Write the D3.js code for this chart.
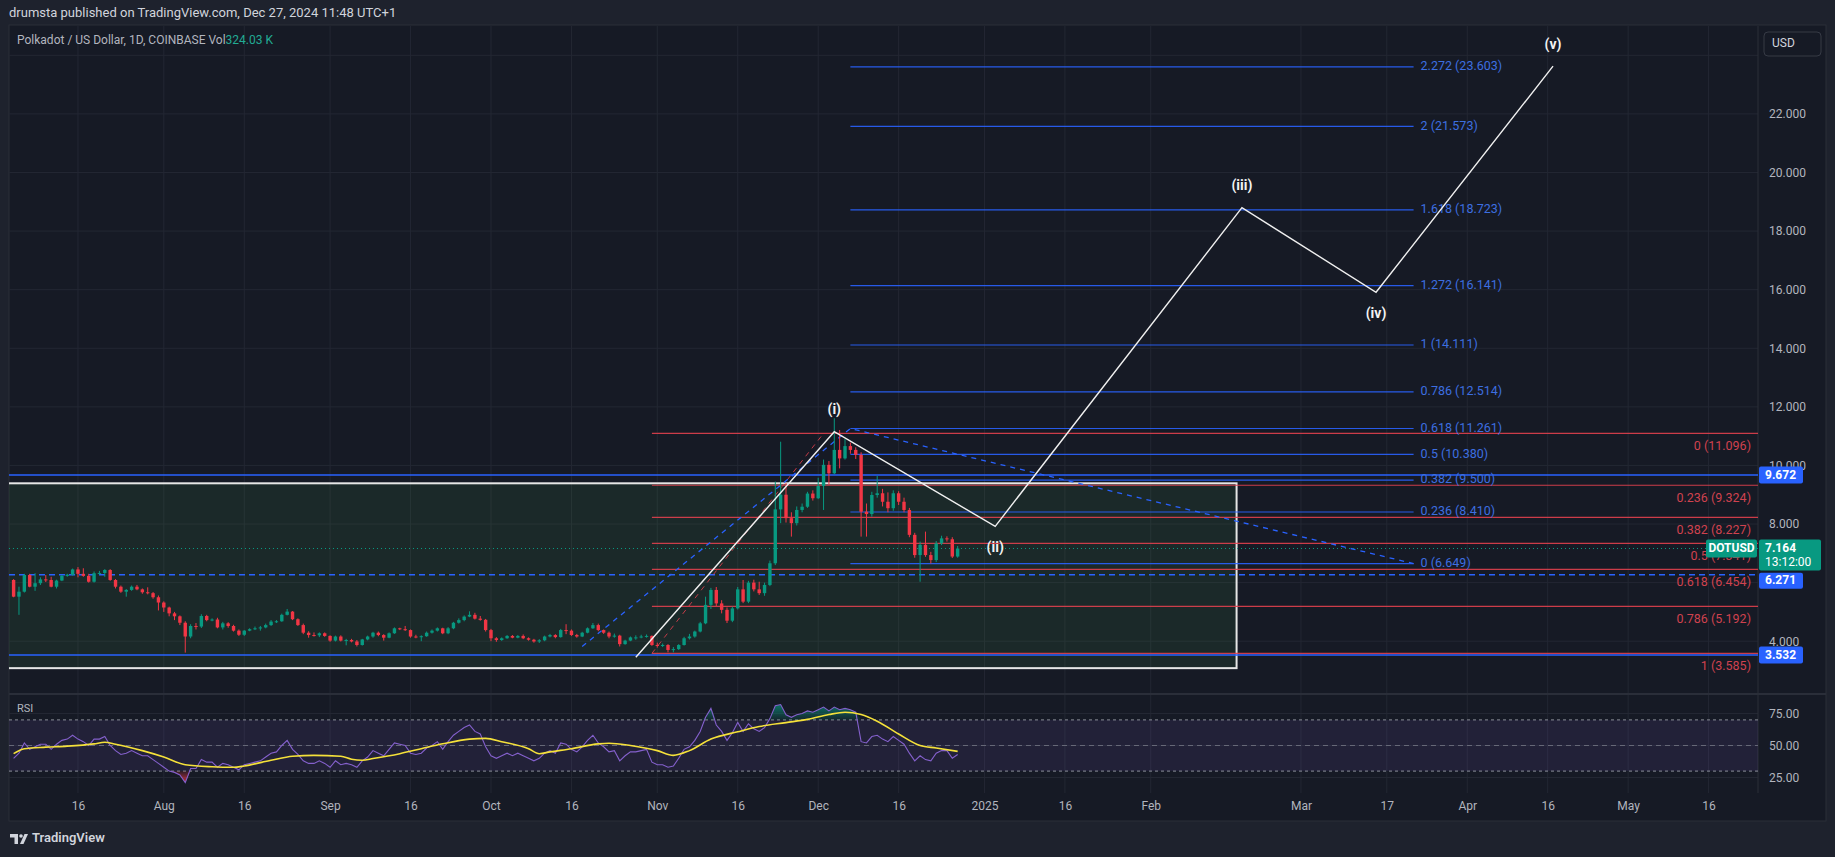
<!DOCTYPE html>
<html><head><meta charset="utf-8">
<script src="https://cdn.jsdelivr.net/npm/d3@7"></script>
<style>
html,body{margin:0;padding:0;background:#1e222d;}
svg{display:block;font-family:Roboto,"Liberation Sans",sans-serif;}
</style></head><body>
<svg id="c" width="1835" height="857"></svg>
<script>
// ---------------- DATA ----------------
const startDate = "2024-07-04";
const firstOpen = 6.09;
const closes = [5.52,5.69,6.26,5.86,5.98,6.11,6.09,5.86,6.07,6.23,
6.27,6.45,6.30,6.23,6.03,6.32,6.33,6.43,6.09,5.86,
5.69,5.75,5.86,5.77,5.67,5.64,5.50,5.32,5.15,4.95,
4.85,4.63,4.16,4.52,4.50,4.86,4.72,4.74,4.47,4.61,
4.52,4.36,4.22,4.36,4.41,4.44,4.47,4.55,4.67,4.68,
4.90,5.01,4.75,4.55,4.29,4.21,4.20,4.27,4.18,4.02,
4.16,4.02,4.04,3.99,3.87,4.06,4.16,4.29,4.21,4.12,
4.27,4.44,4.41,4.38,4.16,4.14,4.17,4.29,4.36,4.44,
4.27,4.44,4.63,4.72,4.84,4.90,4.77,4.73,4.38,4.10,
4.04,4.10,4.18,4.12,4.18,4.10,4.05,3.99,4.03,4.16,
4.21,4.14,4.38,4.36,4.21,4.16,4.29,4.44,4.55,4.38,
4.29,4.16,4.19,3.90,4.02,4.13,4.13,4.16,4.18,3.87,
3.85,3.87,3.70,3.73,3.87,4.10,4.16,4.33,4.61,5.24,
5.75,5.29,5.07,4.70,5.12,5.77,5.35,6.00,5.77,5.64,
5.92,6.66,8.50,9.00,8.20,8.03,8.48,8.59,9.04,8.88,
9.30,10.02,9.73,10.53,10.24,10.66,10.53,10.36,8.42,8.34,
8.99,9.05,8.76,8.54,9.05,8.76,8.48,7.63,6.94,7.29,
6.94,6.77,7.34,7.51,7.48,6.89,7.164];
const highs = [6.12,5.86,6.30,6.30,6.32,6.18,6.26,6.20,6.10,6.26,
6.30,6.48,6.53,6.49,6.30,6.38,6.40,6.46,6.46,6.12,
5.90,5.78,5.90,5.92,5.80,5.84,5.68,5.56,5.36,5.18,
5.00,4.88,4.68,4.58,4.62,4.92,4.90,4.78,4.80,4.66,
4.65,4.56,4.40,4.38,4.44,4.50,4.52,4.60,4.72,4.72,
4.94,5.10,5.03,4.78,4.60,4.34,4.30,4.30,4.30,4.20,
4.19,4.20,4.08,4.08,4.04,4.08,4.19,4.32,4.33,4.24,
4.30,4.47,4.46,4.52,4.40,4.22,4.20,4.33,4.40,4.47,
4.46,4.48,4.66,4.78,4.88,5.02,4.97,4.86,4.76,4.42,
4.14,4.13,4.21,4.21,4.21,4.23,4.13,4.08,4.07,4.19,
4.25,4.24,4.42,4.58,4.40,4.25,4.32,4.47,4.62,4.60,
4.40,4.33,4.26,4.22,4.05,4.16,4.20,4.22,4.23,4.20,
3.95,3.92,3.90,3.80,3.90,4.15,4.25,4.36,4.66,5.52,
5.82,5.85,5.40,5.15,5.18,5.85,6.09,6.06,6.10,6.03,
6.00,6.75,9.45,10.81,9.40,8.40,8.60,8.70,9.10,9.15,
9.58,10.20,10.15,11.61,11.21,10.90,10.78,10.62,10.45,8.70,
9.10,9.64,9.20,9.08,9.15,9.12,8.90,8.55,7.70,7.40,
7.74,7.05,7.42,7.60,7.58,7.55,7.25];
const lows = [5.50,4.90,5.66,5.84,5.72,5.92,6.02,5.84,5.80,6.05,
6.20,6.24,6.18,6.20,6.00,6.00,6.28,6.20,6.06,5.80,
5.65,5.52,5.72,5.74,5.62,5.60,5.45,5.05,5.00,4.85,
4.72,4.55,3.61,4.10,4.40,4.45,4.68,4.68,4.44,4.40,
4.46,4.33,4.18,4.18,4.34,4.38,4.36,4.44,4.52,4.62,
4.66,4.88,4.72,4.52,4.24,4.12,4.16,4.14,4.15,3.98,
3.99,3.99,3.86,3.96,3.82,3.85,4.03,4.12,4.17,4.02,
4.10,4.25,4.38,4.35,4.12,4.10,4.00,4.15,4.26,4.33,
4.24,4.24,4.41,4.60,4.68,4.82,4.74,4.70,4.33,4.00,
3.98,4.01,4.08,4.10,4.10,4.07,4.02,3.95,3.94,4.00,
4.13,4.10,4.12,4.24,4.18,4.12,4.14,4.27,4.42,4.34,
4.25,4.10,4.12,3.82,3.88,4.00,4.05,4.10,4.12,3.84,
3.78,3.80,3.62,3.62,3.70,3.85,4.06,4.12,4.30,4.58,
5.10,5.20,4.95,4.62,4.65,5.08,5.30,5.30,5.70,5.58,
5.55,5.88,6.60,8.03,8.05,7.57,7.95,8.40,8.55,8.80,
8.85,8.48,9.33,9.70,9.90,10.20,10.40,10.22,7.57,7.57,
8.25,8.90,8.60,8.40,8.45,8.65,8.40,7.55,6.85,6.03,
6.88,6.65,6.70,7.28,7.40,6.84,6.85];
const rsi = [40,44,52,47,49,51,51,47,51,54,
55,58,55,53,50,55,55,57,50,46,
43,44,46,44,42,42,39,36,33,30,
29,27,21,32,32,39,37,37,33,36,
35,33,31,35,36,37,38,41,44,45,
50,54,47,43,38,36,36,38,36,33,
38,35,36,35,33,38,41,46,44,42,
47,52,51,50,44,43,44,48,50,53,
47,53,58,61,64,66,61,59,49,42,
40,42,44,42,44,42,40,38,40,44,
46,44,52,51,47,45,49,54,58,52,
49,45,46,38,42,45,45,46,47,37,
35,35,33,34,40,47,49,54,61,72,
79,66,61,54,60,68,61,67,63,61,
64,71,81,82,74,72,74,75,77,76,
78,80,77,80,78,79,78,76,53,52,
57,58,55,53,57,54,51,44,38,42,
39,38,44,46,46,40,43];
const rsiMaDays = [0,2,6,10,15,17,19,24,28,32,37,41,43,48,52,56,61,63,65,67,72,76,80,85,88,91,96,98,100,104,109,111,115,120,123,126,130,135,139,144,148,152,155,158,161,165,169,172,176];
const rsiMa = [43.6,47.5,48.7,49.5,51.3,52.5,51,46,41,35,33.4,33,34,38.5,41.6,42.3,41.6,39.3,38.5,39.8,43.6,47.5,51.3,55,55.6,53,47.5,43.6,45,47.5,51.3,51.8,50,46,42.3,46,55,60.7,64.8,67.9,70.4,74.2,76,74.2,69,59,50,48,45.4];

const priceTicks = [4,8,10,12,14,16,18,20,22];
const priceGrid = [4,6,8,10,12,14,16,18,20,22,24];
const rsiTicks = [25,50,75];
const timeTicks = ["2024-07-16","2024-08-01","2024-08-16","2024-09-01","2024-09-16","2024-10-01","2024-10-16","2024-11-01","2024-11-16","2024-12-01","2024-12-16","2025-01-01","2025-01-16","2025-02-01","2025-03-01","2025-03-17","2025-04-01","2025-04-16","2025-05-01","2025-05-16"];
const timeTickLabels = ["16","Aug","16","Sep","16","Oct","16","Nov","16","Dec","16","2025","16","Feb","Mar","17","Apr","16","May","16"];

const fibRetStart = "2024-10-31";
const fibRetLevels = [0,0.236,0.382,0.5,0.618,0.786,1];
const fibRetPrices = [11.096,9.324,8.227,7.341,6.454,5.192,3.585];
const fibRetTrendDates = ["2024-10-31","2024-12-02"];
const fibRetTrendPrices = [3.585,11.096];

const fibExtLevels = ["2.272","2","1.618","1.272","1","0.786","0.618","0.5","0.382","0.236","0"];
const fibExtPrices = [23.603,21.573,18.723,16.141,14.111,12.514,11.261,10.380,9.500,8.410,6.649];
const fibExtPointDates = ["2024-10-18","2024-12-07","2025-03-22"];
const fibExtPointPrices = [3.82,11.26,6.649];

const waveDates = ["2024-10-28","2024-12-04","2025-01-03","2025-02-18","2025-03-15","2025-04-17"];
const wavePrices = [3.45,11.15,7.92,18.80,15.91,23.63];
const waveLabels = ["","(i)","(ii)","(iii)","(iv)","(v)"];
const waveLabelAbove = [true,true,false,true,false,true];

const boxDates = ["2024-06-01","2025-02-17"];
const boxPrices = [9.39,3.08];

const hLinePrices = [9.672,6.271,3.532];
const hLineDash = [null,"6,4",null];
const lastPrice = 7.164;
const countdown = "13:12:00";

// ---------------- LAYOUT ----------------
const W=1835,H=857;
const L=9, R=1758, AXR=1826, MT=26, MB=693, RT=695, RB=793, TB=821;
const parse = d3.utcParse("%Y-%m-%d");
const x = d3.scaleUtc().domain([parse("2024-08-01"), parse("2025-05-16")]).range([163.8,1708.6]);
const y = d3.scaleLinear().domain([4,22]).range([641.2,113.9]);
const yr = d3.scaleLinear().domain([25,75]).range([777.5,713.5]);
const t0 = parse(startDate);
const candles = closes.map((c,i)=>({date:d3.utcDay.offset(t0,i), o: i?closes[i-1]:firstOpen, h:highs[i], l:lows[i], c}));

const UP="#089981", DN="#f23645", BLUE="#2962ff", GRID="#232733", TXT="#b2b5be";
const svg = d3.select("#c");
const defs = svg.append("defs");
defs.append("clipPath").attr("id","cm").append("rect").attr("x",L).attr("y",MT).attr("width",R-L).attr("height",MB-MT);
defs.append("clipPath").attr("id","cr").append("rect").attr("x",L).attr("y",RT).attr("width",R-L).attr("height",RB-RT);

svg.append("rect").attr("width",W).attr("height",H).attr("fill","#1e222d");
svg.append("rect").attr("x",L).attr("y",MT-1).attr("width",AXR-L).attr("height",TB-MT+1).attr("fill","#161a25").attr("stroke","#2a2e39");

// header
svg.append("text").attr("x",9).attr("y",14).attr("dominant-baseline","middle").attr("fill","#d1d4dc").attr("font-size",13)
  .text("drumsta published on TradingView.com, Dec 27, 2024 11:48 UTC+1");

// grids
const gm = svg.append("g");
gm.selectAll("line.h").data(priceGrid).join("line").attr("x1",L).attr("x2",R).attr("y1",d=>y(d)).attr("y2",d=>y(d)).attr("stroke",GRID);
gm.selectAll("line.v").data(timeTicks).join("line").attr("x1",d=>x(parse(d))).attr("x2",d=>x(parse(d))).attr("y1",MT).attr("y2",RB).attr("stroke",GRID);
gm.selectAll("line.r").data(rsiTicks).join("line").attr("x1",L).attr("x2",R).attr("y1",d=>yr(d)).attr("y2",d=>yr(d)).attr("stroke",GRID);

// pane separators
svg.append("line").attr("x1",L).attr("x2",AXR).attr("y1",694).attr("y2",694).attr("stroke","#2a2e39").attr("stroke-width",2);
svg.append("line").attr("x1",R).attr("x2",R).attr("y1",MT).attr("y2",RB).attr("stroke","#2a2e39");

// ---------------- MAIN PANE ----------------
const main = svg.append("g").attr("clip-path","url(#cm)");
main.append("rect").attr("x",x(parse(boxDates[0]))).attr("y",y(boxPrices[0]))
  .attr("width",x(parse(boxDates[1]))-x(parse(boxDates[0]))).attr("height",y(boxPrices[1])-y(boxPrices[0]))
  .attr("fill","rgba(76,175,80,0.1)").attr("stroke","#e6e6e6").attr("stroke-width",2);

main.selectAll("line.hl").data(hLinePrices).join("line").attr("x1",L).attr("x2",R)
  .attr("y1",d=>y(d)).attr("y2",d=>y(d)).attr("stroke",BLUE).attr("stroke-width",1.5)
  .attr("stroke-dasharray",(d,i)=>hLineDash[i]);

const fr0 = x(parse(fibRetStart));
main.selectAll("line.fr").data(fibRetPrices).join("line").attr("x1",fr0).attr("x2",R)
  .attr("y1",d=>y(d)).attr("y2",d=>y(d)).attr("stroke","#e0404e").attr("stroke-opacity",0.9).attr("stroke-width",1.2);
main.append("line").attr("x1",x(parse(fibRetTrendDates[0]))).attr("y1",y(fibRetTrendPrices[0]))
  .attr("x2",x(parse(fibRetTrendDates[1]))).attr("y2",y(fibRetTrendPrices[1]))
  .attr("stroke","#e0404e").attr("stroke-dasharray","5,5").attr("stroke-opacity",0.85);

const fe0 = x(parse(fibExtPointDates[1])), fe1 = x(parse(fibExtPointDates[2]));
main.selectAll("line.fe").data(fibExtPrices).join("line").attr("x1",fe0).attr("x2",fe1)
  .attr("y1",d=>y(d)).attr("y2",d=>y(d)).attr("stroke",BLUE).attr("stroke-opacity",0.9).attr("stroke-width",1.2);
main.append("path").attr("d",d3.line().x(d=>x(parse(d[0]))).y(d=>y(d[1]))(fibExtPointDates.map((d,i)=>[d,fibExtPointPrices[i]])))
  .attr("fill","none").attr("stroke",BLUE).attr("stroke-dasharray","5,5").attr("stroke-width",1.3);
main.selectAll("text.fe").data(fibExtPrices).join("text").attr("x",fe1+7).attr("y",d=>y(d))
  .attr("dominant-baseline","middle").attr("fill","#3d6fe0").attr("font-size",12.5)
  .text((d,i)=>`${fibExtLevels[i]} (${d.toFixed(3)})`);

main.append("line").attr("x1",L).attr("x2",R).attr("y1",y(lastPrice)).attr("y2",y(lastPrice))
  .attr("stroke",UP).attr("stroke-dasharray","1,3");

const cg = main.append("g");
cg.selectAll("line").data(candles).join("line")
  .attr("x1",d=>x(d.date)).attr("x2",d=>x(d.date)).attr("y1",d=>y(d.h)).attr("y2",d=>y(d.l))
  .attr("stroke",d=>d.c>=d.o?UP:DN).attr("stroke-width",1);
cg.selectAll("rect").data(candles).join("rect")
  .attr("x",d=>x(d.date)-1.7).attr("width",3.4)
  .attr("y",d=>y(Math.max(d.o,d.c))).attr("height",d=>Math.max(1,Math.abs(y(d.o)-y(d.c))))
  .attr("fill",d=>d.c>=d.o?UP:DN);

main.selectAll("text.fr").data(fibRetPrices).join("text").attr("x",1751).attr("y",d=>y(d)+13)
  .attr("text-anchor","end").attr("dominant-baseline","middle").attr("fill","#d0424f").attr("font-size",12.5)
  .text((d,i)=>`${fibRetLevels[i]} (${d.toFixed(3)})`);

const wave = waveDates.map((d,i)=>({x:x(parse(d)),y:y(wavePrices[i]),lab:waveLabels[i],up:waveLabelAbove[i]}));
main.append("path").attr("d",d3.line().x(d=>d.x).y(d=>d.y)(wave)).attr("fill","none").attr("stroke","#f0f0f0").attr("stroke-width",1.4);
main.selectAll("text.w").data(wave.filter(d=>d.lab)).join("text")
  .attr("x",d=>d.x).attr("y",d=>d.up?d.y-21:d.y+22).attr("text-anchor","middle").attr("dominant-baseline","middle")
  .attr("fill","#f2f2f2").attr("font-weight","bold").attr("font-size",14).text(d=>d.lab);

const lg = svg.append("text").attr("x",17).attr("y",41).attr("dominant-baseline","middle").attr("font-size",12).attr("fill",TXT);
lg.append("tspan").text("Polkadot / US Dollar, 1D, COINBASE  Vol");
lg.append("tspan").attr("fill","#22ab94").text("324.03 K");

// ---------------- RSI PANE ----------------
const rp = svg.append("g").attr("clip-path","url(#cr)");
rp.append("rect").attr("x",L).attr("width",R-L).attr("y",yr(70)).attr("height",yr(30)-yr(70)).attr("fill","rgba(126,87,194,0.12)");
rp.selectAll("line.lv").data([70,50,30]).join("line").attr("x1",L).attr("x2",R).attr("y1",d=>yr(d)).attr("y2",d=>yr(d))
  .attr("stroke",d=>d===50?"rgba(140,143,154,0.6)":"#8c8f9a").attr("stroke-dasharray",d=>d===50?"5,4":"3,3");
const rd = rsi.map((v,i)=>({date:d3.utcDay.offset(t0,i),v}));
const gradG = defs.append("linearGradient").attr("id","gg").attr("x1",0).attr("x2",0).attr("y1",0).attr("y2",1);
gradG.append("stop").attr("offset","0%").attr("stop-color","rgba(8,153,129,0.7)");
gradG.append("stop").attr("offset","100%").attr("stop-color","rgba(8,153,129,0.1)");
const gradR = defs.append("linearGradient").attr("id","gr").attr("x1",0).attr("x2",0).attr("y1",0).attr("y2",1);
gradR.append("stop").attr("offset","0%").attr("stop-color","rgba(242,54,69,0.1)");
gradR.append("stop").attr("offset","100%").attr("stop-color","rgba(242,54,69,0.8)");
rp.append("path").attr("d",d3.area().x(d=>x(d.date)).y0(yr(70)).y1(d=>yr(Math.max(70,d.v)))(rd)).attr("fill","url(#gg)");
rp.append("path").attr("d",d3.area().x(d=>x(d.date)).y0(yr(30)).y1(d=>yr(Math.min(30,d.v)))(rd)).attr("fill","url(#gr)");
rp.append("path").attr("d",d3.line().x(d=>x(d.date)).y(d=>yr(d.v))(rd)).attr("fill","none").attr("stroke","#8460cc").attr("stroke-width",1.1);
const md = rsiMaDays.map((k,i)=>({date:d3.utcDay.offset(t0,k),v:rsiMa[i]}));
rp.append("path").attr("d",d3.line().curve(d3.curveMonotoneX).x(d=>x(d.date)).y(d=>yr(d.v))(md)).attr("fill","none").attr("stroke","#f5e13a").attr("stroke-width",1.6);
svg.append("text").attr("x",17).attr("y",709).attr("dominant-baseline","middle").attr("fill",TXT).attr("font-size",11).text("RSI");

// ---------------- AXES ----------------
function styleAxis(g){ g.attr("font-family",null).attr("font-size",12); g.select(".domain").remove(); g.selectAll("text").attr("fill",TXT); }
svg.append("g").attr("transform",`translate(${R},0)`)
  .call(d3.axisRight(y).tickValues(priceTicks).tickFormat(d3.format(".3f")).tickSize(0).tickPadding(11)).call(styleAxis);
svg.append("g").attr("transform",`translate(${R},0)`)
  .call(d3.axisRight(yr).tickValues(rsiTicks).tickFormat(d3.format(".2f")).tickSize(0).tickPadding(11)).call(styleAxis);
svg.append("g").attr("transform",`translate(0,${RB})`)
  .call(d3.axisBottom(x).tickValues(timeTicks.map(parse)).tickFormat((d,i)=>timeTickLabels[i]).tickSize(0).tickPadding(8)).call(styleAxis);

function priceBox(py, text, fill, h){
  const g = svg.append("g");
  g.append("rect").attr("x",R+1).attr("y",py-h/2).attr("width",44).attr("height",h).attr("rx",2).attr("fill",fill);
  g.append("text").attr("x",R+7).attr("y",py+0.5).attr("dominant-baseline","middle").attr("fill","#fff").attr("font-size",12).attr("font-weight","bold").text(text);
}
priceBox(y(hLinePrices[0]), d3.format(".3f")(hLinePrices[0]), BLUE, 17);
priceBox(y(hLinePrices[1])+6, d3.format(".3f")(hLinePrices[1]), BLUE, 16);
priceBox(y(hLinePrices[2]), d3.format(".3f")(hLinePrices[2]), BLUE, 17);
const ly = y(lastPrice);
svg.append("rect").attr("x",R+1).attr("y",ly-9).attr("width",62).attr("height",31).attr("rx",2).attr("fill",UP);
svg.append("text").attr("x",R+7).attr("y",ly).attr("dominant-baseline","middle").attr("fill","#fff").attr("font-size",12).attr("font-weight","bold").text(d3.format(".3f")(lastPrice));
svg.append("text").attr("x",R+7).attr("y",ly+14).attr("dominant-baseline","middle").attr("fill","#fff").attr("font-size",12).text(countdown);
svg.append("rect").attr("x",R-52).attr("y",ly-9).attr("width",51).attr("height",18).attr("rx",2).attr("fill",UP);
svg.append("text").attr("x",R-26.5).attr("y",ly+0.5).attr("text-anchor","middle").attr("dominant-baseline","middle").attr("fill","#fff").attr("font-size",12).attr("font-weight","bold").text("DOTUSD");

svg.append("rect").attr("x",1764).attr("y",32).attr("width",57).attr("height",24).attr("rx",4).attr("fill","#161a25").attr("stroke","#363a45");
svg.append("text").attr("x",1772).attr("y",44).attr("dominant-baseline","middle").attr("fill","#d1d4dc").attr("font-size",12).text("USD");

const fl = svg.append("g").attr("fill","#d1d4dc");
fl.append("path").attr("d","M10,834 h8 v10 h-3.5 v-6.5 h-4.5 z");
fl.append("circle").attr("cx",21).attr("cy",836).attr("r",1.8);
fl.append("path").attr("d","M20,844 l4.5,-10 h3.5 l-4.5,10 z");
svg.append("text").attr("x",32).attr("y",839).attr("dominant-baseline","middle").attr("fill","#d1d4dc").attr("font-size",13).attr("font-weight",600).text("TradingView");
</script>
</body></html>
